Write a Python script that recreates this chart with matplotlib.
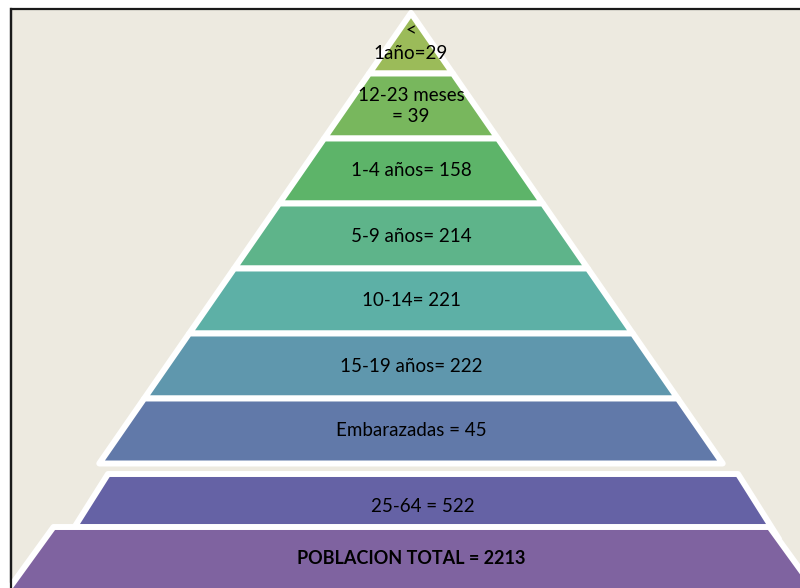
import matplotlib.pyplot as plt
from matplotlib.patches import Polygon, Rectangle

# niveles de la piramide (de arriba hacia abajo)
etiquetas = ["<\n1año=29", "12-23 meses\n= 39", "1-4 años= 158", "5-9 años= 214",
             "10-14= 221", "15-19 años= 222", "Embarazadas = 45"]
colores = ["#9BBB59", "#78B75D", "#5DB469", "#5EB48A", "#5DB0A6", "#5F97AD", "#6179A9"]

# franjas aparte debajo de la piramide
etiqueta_adultos = "25-64 = 522"
color_adultos = "#6562A5"
etiqueta_total = "POBLACION TOTAL = 2213"
color_total = "#7F63A0"

plt.rcParams['font.family'] = ['Lato', 'DejaVu Sans']

fig = plt.figure(figsize=(8, 5.88), dpi=100)
ax = fig.add_axes([0, 0, 1, 1])
ax.set_xlim(0, 800)
ax.set_ylim(588, 0)
ax.axis('off')

# fondo con marco
ax.add_patch(Rectangle((10.5, 8.5), 820, 620, facecolor='#EDEAE0',
                       edgecolor='#1a1a1a', lw=1.6, zorder=0))

cx = 411
apex = 13
slope = 0.692
pitch = 65
borde = 4.3
fs = 13.5

def ancho(y):
    return slope * (y - apex)

n = len(etiquetas)
for i in range(n):
    y0 = apex if i == 0 else 73.5 + pitch * (i - 1)
    y1 = 73.5 + pitch * i
    pts = [(cx - ancho(y0), y0), (cx + ancho(y0), y0),
           (cx + ancho(y1), y1), (cx - ancho(y1), y1)]
    ax.add_patch(Polygon(pts, closed=True, facecolor=colores[i], edgecolor='white',
                         lw=borde, joinstyle='round', zorder=2))
    yt = 42 if i == 0 else (y0 + y1) / 2
    ax.text(cx, yt, etiquetas[i], ha='center', va='center',
            fontsize=fs, linespacing=1.45 if i == 0 else 1.3, zorder=3)

# 25-64
ax.add_patch(Polygon([(423 - 315, 474), (423 + 315, 474), (423 + 356, 539), (423 - 356, 539)],
                     closed=True, facecolor=color_adultos, edgecolor='white', lw=borde,
                     joinstyle='round', zorder=2))
ax.text(423, 507, etiqueta_adultos, ha='center', va='center', fontsize=fs, zorder=3)

# total
ax.add_patch(Polygon([(411.5 - 358, 527), (411.5 + 358, 527), (411.5 + 405, 592), (411.5 - 405, 592)],
                     closed=True, facecolor=color_total, edgecolor='white', lw=borde,
                     joinstyle='round', zorder=4))
ax.text(411, 559, etiqueta_total, ha='center', va='center', fontsize=13,
        fontweight='bold', zorder=5)

# linea del marco por encima
ax.plot([10.5, 10.5], [8.5, 588], color='#1a1a1a', lw=1.6, zorder=6)

fig.savefig('out.png', dpi=100)
